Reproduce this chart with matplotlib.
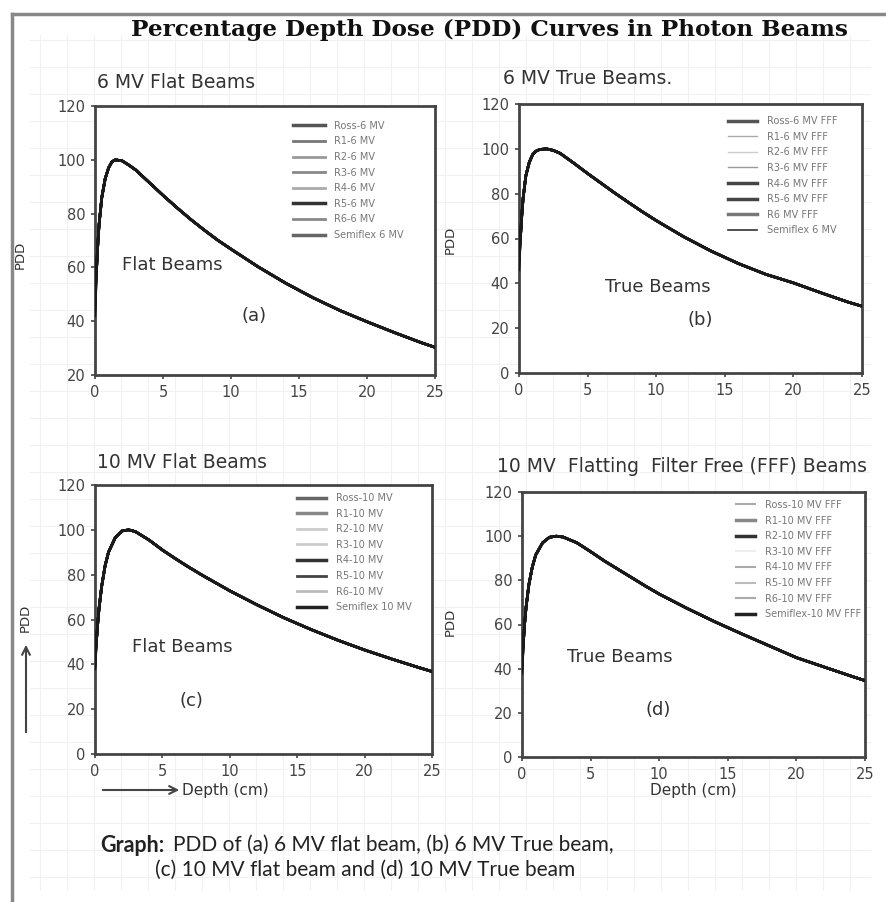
import numpy as np
import matplotlib
matplotlib.use('Agg')
import matplotlib.pyplot as plt
from matplotlib.lines import Line2D

W, H = 887, 902

# depth (cm) grid and PDD (%)
depth_6 = [0, 0.1, 0.2, 0.3, 0.5, 0.75, 1.0, 1.25, 1.5, 2, 2.5, 3, 4, 5, 6, 7, 8, 9, 10, 12, 14, 16, 18, 20, 22, 24, 25]
pdd_6_flat = [45, 58, 68, 76, 86, 93, 97, 99.3, 100, 99.6, 98, 96.2, 91.5, 86.8, 82.3, 78, 74, 70.2, 66.8, 60.2, 54.2, 48.8, 44, 39.8, 35.8, 32, 30.3]
pdd_6_fff = [50, 60, 70, 78, 88, 94, 97.5, 99, 99.7, 100, 99.3, 98, 93.6, 89, 84.6, 80.2, 76, 71.9, 68, 60.8, 54.4, 48.8, 44, 40.2, 35.8, 31.6, 29.8]

depth_10 = [0, 0.1, 0.2, 0.3, 0.5, 0.75, 1, 1.5, 2, 2.5, 3, 4, 5, 6, 7, 8, 9, 10, 12, 14, 16, 18, 20, 22, 24, 25]
pdd_10_flat = [40, 50, 58, 65, 75, 84, 90, 96.5, 99.5, 100, 99.2, 95.5, 91, 87, 83.2, 79.6, 76.2, 72.8, 66.6, 60.8, 55.6, 50.8, 46.4, 42.4, 38.6, 36.8]
pdd_10_fff = [40, 52, 61, 68, 78, 86, 91.5, 97, 99.5, 100, 99.6, 97, 93, 88.8, 85, 81.2, 77.4, 73.8, 67.4, 61.4, 55.8, 50.4, 45, 40.8, 36.6, 34.6]

# surface dose of each detector (spread seen at depth 0)
surf_6_flat = [45, 50, 42, 55, 47, 52, 44, 48]
surf_6_fff = [50, 55, 48, 60, 52, 46, 57, 50]
surf_10_flat = [40, 44, 38, 47, 42, 45, 39, 41]
surf_10_fff = [40, 45, 38, 48, 42, 44, 39, 41]

labels_6_flat = ['Ross-6 MV', 'R1-6 MV', 'R2-6 MV', 'R3-6 MV', 'R4-6 MV', 'R5-6 MV', 'R6-6 MV', 'Semiflex 6 MV']
labels_6_fff = ['Ross-6 MV FFF', 'R1-6 MV FFF', 'R2-6 MV FFF', 'R3-6 MV FFF', 'R4-6 MV FFF', 'R5-6 MV FFF', 'R6 MV FFF', 'Semiflex 6 MV']
labels_10_flat = ['Ross-10 MV', 'R1-10 MV', 'R2-10 MV', 'R3-10 MV', 'R4-10 MV', 'R5-10 MV', 'R6-10 MV', 'Semiflex 10 MV']
labels_10_fff = ['Ross-10 MV FFF', 'R1-10 MV FFF', 'R2-10 MV FFF', 'R3-10 MV FFF', 'R4-10 MV FFF', 'R5-10 MV FFF', 'R6-10 MV FFF', 'Semiflex-10 MV FFF']

fig = plt.figure(figsize=(W / 100, H / 100), dpi=100)
fig.patch.set_facecolor('white')

# faint page grid and border
bg = fig.add_axes([0, 0, 1, 1], zorder=-10)
bg.set_xlim(0, W)
bg.set_ylim(H, 0)
bg.axis('off')
for gx in np.arange(40, 870, 27):
    bg.plot([gx, gx], [35, 890], color='#f1f1f1', lw=0.8)
for gy in np.arange(40, 895, 27):
    bg.plot([30, 870], [gy, gy], color='#f1f1f1', lw=0.8)
bg.plot([12, W], [14, 14], color='#888888', lw=2.5)
bg.plot([12, 12], [14, H], color='#888888', lw=2.5)


def px_axes(l, t, r, b):
    return fig.add_axes([l / W, 1 - b / H, (r - l) / W, (b - t) / H])


def panel(ax, depth, pdd, surf, labels, colors, widths, ylim, leg_anchor, handlelen):
    for i in range(len(labels)):
        y = [surf[i]] + pdd[1:]
        ax.plot(depth, y, color='#1a1a1a', lw=1.9, zorder=3)
    handles = [Line2D([0], [0], color=c, lw=w) for c, w in zip(colors, widths)]
    ax.legend(handles, labels, loc='upper right', bbox_to_anchor=leg_anchor, frameon=False,
              fontsize=7, labelspacing=0.58, handlelength=handlelen, handletextpad=1.0,
              borderaxespad=0, labelcolor='#777777')
    ax.set_xlim(0, 25)
    ax.set_ylim(*ylim)
    ax.set_xticks([0, 5, 10, 15, 20, 25])
    ax.set_yticks(np.arange(ylim[0], ylim[1] + 1, 20))
    for s in ax.spines.values():
        s.set_color('#444444')
        s.set_linewidth(2)
    ax.tick_params(direction='out', length=3, width=1.2, colors='#444444', labelsize=10.5, pad=4)
    ax.set_facecolor('white')


ax_a = px_axes(95, 106, 435, 375)
panel(ax_a, depth_6, pdd_6_flat, surf_6_flat, labels_6_flat,
      ['#555', '#777', '#999', '#888', '#aaa', '#333', '#888', '#666'],
      [2.5, 2, 2, 2, 2, 2.5, 2, 2.5], (20, 120), (0.92, 0.96), 3.2)
ax_a.text(0.08, 0.39, 'Flat Beams', transform=ax_a.transAxes, fontsize=13, color='#333')
ax_a.text(0.43, 0.2, '(a)', transform=ax_a.transAxes, fontsize=13, color='#333')

ax_b = px_axes(519, 104, 862, 373)
panel(ax_b, depth_6, pdd_6_fff, surf_6_fff, labels_6_fff,
      ['#555', '#aaa', '#ccc', '#999', '#444', '#444', '#777', '#333'],
      [2.5, 1, 1, 1, 2.5, 2.5, 2.5, 1.2], (0, 120), (0.94, 0.97), 3.0)
ax_b.text(0.25, 0.3, 'True Beams', transform=ax_b.transAxes, fontsize=13, color='#333')
ax_b.text(0.49, 0.18, '(b)', transform=ax_b.transAxes, fontsize=13, color='#333')

ax_c = px_axes(95, 485, 432, 754)
panel(ax_c, depth_10, pdd_10_flat, surf_10_flat, labels_10_flat,
      ['#666', '#888', '#ccc', '#ccc', '#333', '#444', '#bbb', '#222'],
      [2.5, 2.5, 2, 2, 2.5, 2, 2, 2.5], (0, 120), (0.95, 0.985), 3.0)
ax_c.text(0.11, 0.38, 'Flat Beams', transform=ax_c.transAxes, fontsize=13, color='#333')
ax_c.text(0.25, 0.18, '(c)', transform=ax_c.transAxes, fontsize=13, color='#333')

ax_d = px_axes(522, 492, 865, 757)
panel(ax_d, depth_10, pdd_10_fff, surf_10_fff, labels_10_fff,
      ['#aaa', '#888', '#333', '#eee', '#aaa', '#bbb', '#aaa', '#222'],
      [1.5, 2.5, 2.5, 1.5, 1.5, 1.5, 1.5, 2.5], (0, 120), (1.0, 0.985), 2.0)
ax_d.text(0.13, 0.36, 'True Beams', transform=ax_d.transAxes, fontsize=13, color='#333')
ax_d.text(0.36, 0.16, '(d)', transform=ax_d.transAxes, fontsize=13, color='#333')
ax_d.set_xlabel('Depth (cm)', fontsize=11, color='#333', labelpad=1)

# panel headings
fig.text(97 / W, 1 - 82 / H, '6 MV Flat Beams', fontsize=13.5, color='#333', va='center')
fig.text(503 / W, 1 - 78 / H, '6 MV True Beams.', fontsize=13.5, color='#333', va='center')
fig.text(97 / W, 1 - 463 / H, '10 MV Flat Beams', fontsize=13.5, color='#333', va='center')
fig.text(497 / W, 1 - 466 / H, '10 MV  Flatting  Filter Free (FFF) Beams', fontsize=13.5, color='#333', va='center')

# y labels
for x, y in [(20, 255), (450, 240), (25, 618), (450, 622)]:
    fig.text(x / W, 1 - y / H, 'PDD', rotation=90, fontsize=9.5, color='#333', ha='center', va='center')

# hand-drawn arrows on panel (c)
bg.annotate('', xy=(26, 642), xytext=(26, 735),
            arrowprops=dict(arrowstyle='->', color='#444', lw=1.5, mutation_scale=14))
bg.annotate('', xy=(182, 790), xytext=(100, 790),
            arrowprops=dict(arrowstyle='->', color='#444', lw=1.5, mutation_scale=14))
fig.text(182 / W, 1 - 790 / H, 'Depth (cm)', fontsize=11, color='#333', va='center')

# main title and caption
fig.text(490 / W, 1 - 30 / H, 'Percentage Depth Dose (PDD) Curves in Photon Beams',
         fontsize=16.7, fontweight='bold', family='DejaVu Serif', ha='center', va='center', color='#111')
fig.text(100 / W, 1 - 845 / H, 'Graph:', fontsize=15.5, fontweight='bold', family='Lato', va='center', color='#222')
fig.text(173 / W, 1 - 845 / H, 'PDD of (a) 6 MV flat beam, (b) 6 MV True beam,',
         fontsize=15, family='Lato', va='center', color='#222')
fig.text(155 / W, 1 - 870 / H, '(c) 10 MV flat beam and (d) 10 MV True beam',
         fontsize=15, family='Lato', va='center', color='#222')

fig.savefig('out.png', dpi=100)
